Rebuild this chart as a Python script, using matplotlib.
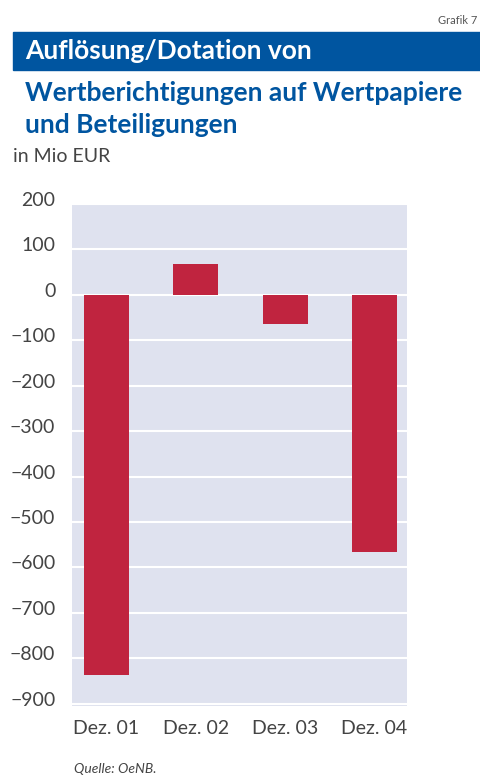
import numpy as np
from matplotlib import pyplot as plt
from matplotlib import transforms

plt.rcParams['font.family'] = ['Lato', 'DejaVu Sans']

categories = ["Dez. 01", "Dez. 02", "Dez. 03", "Dez. 04"]
values = [-837, 68, -64, -565]
y_ticks = [200, 100, 0, -100, -200, -300, -400, -500, -600, -700, -800, -900]

BLUE = "#0055a0"
RED = "#c0243f"
BG = "#dfe2ef"
GREY = "#444444"

fig = plt.figure(figsize=(4.8, 7.78), dpi=100)
ax = fig.add_axes([0.15, 0.0925, 0.698, 0.6455])

ax.set_facecolor(BG)
x = np.arange(len(categories))
ax.bar(x, values, width=0.504, color=RED, zorder=3)

ax.set_xlim(-0.386, 3.365)
ax.set_ylim(-905, 200)
ax.set_yticks(y_ticks)
ax.set_yticklabels([str(v).replace("-", "\u2212") for v in y_ticks])
ax.set_xticks(x)
ax.set_xticklabels(categories)
ax.tick_params(axis="both", length=0, labelsize=14, labelcolor=GREY)
ax.tick_params(axis="y", pad=12)
ax.tick_params(axis="x", pad=10)
# labels sit a little above their gridline
shift = transforms.ScaledTranslation(0, 5 / 100, fig.dpi_scale_trans)
for lbl in ax.get_yticklabels():
    lbl.set_transform(lbl.get_transform() + shift)
ax.grid(axis="y", color="white", linewidth=1.5, zorder=1)
for s in ax.spines.values():
    s.set_visible(False)

# header
fig.text(0.995, 0.974, "Grafik 7", ha="right", va="center", fontsize=8, color="#555555")
fig.patches.append(plt.Rectangle((13 / 480, 1 - 70 / 778), 1, 38 / 778,
                                 transform=fig.transFigure, color=BLUE, zorder=0))
fig.text(25 / 480, 1 - 51 / 778, "Auflösung/Dotation von", ha="left", va="center",
         fontsize=19, fontweight="bold", color="white")
fig.text(25 / 480, 1 - 93 / 778, "Wertberichtigungen auf Wertpapiere", ha="left",
         va="center", fontsize=19, fontweight="bold", color=BLUE)
fig.text(25 / 480, 1 - 125 / 778, "und Beteiligungen", ha="left", va="center",
         fontsize=19, fontweight="bold", color=BLUE)
fig.text(13 / 480, 1 - 157 / 778, "in Mio EUR", ha="left", va="center",
         fontsize=14, color=GREY)
fig.text(74 / 480, 1 - 769 / 778, "Quelle: OeNB.", ha="left", va="center",
         fontsize=10, style="italic", color=GREY)

plt.savefig("out.png", dpi=100)
